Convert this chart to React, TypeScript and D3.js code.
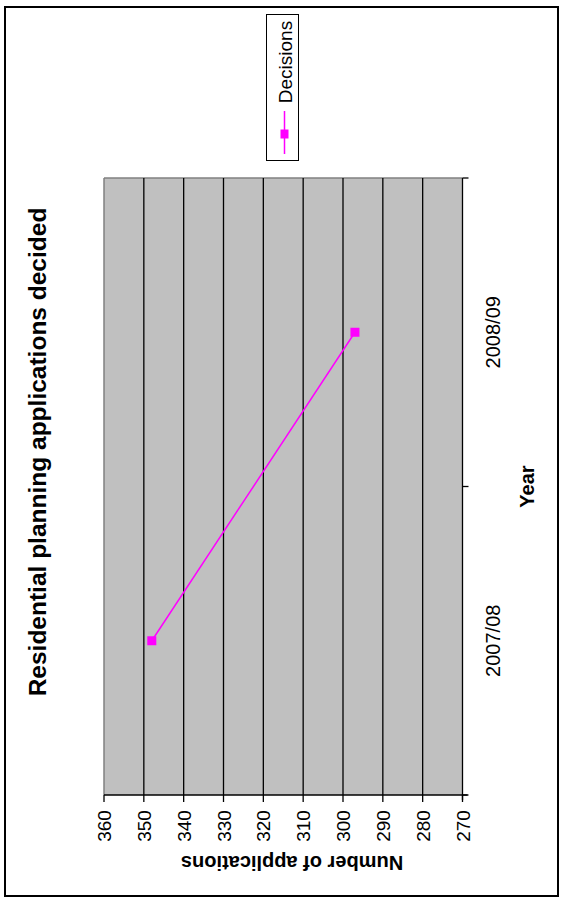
import React from "react";
import * as d3 from "d3";

// Series data
const years = ["2007/08", "2008/09"];
const decisions = [348, 297];
const valueTicks = [360, 350, 340, 330, 320, 310, 300, 290, 280, 270];

const W = 563;
const H = 910;
const FONT = "'Liberation Sans', Arial, sans-serif";

export default function App() {
  // Plot area (chart is laid out turned a quarter turn)
  const left = 104, right = 462.5, top = 178, bottom = 795;

  const x = d3.scaleLinear().domain([360, 270]).range([left, right]);
  const y = d3.scaleBand().domain(years).range([bottom, top]);
  const yc = (d: string) => (y(d) as number) + y.bandwidth() / 2;

  const line = d3
    .line<number>()
    .x((d) => x(d))
    .y((_, i) => yc(years[i]));

  const catTicks = [bottom, ...years.map((d) => y(d) as number)];

  return (
    <svg
      width={W}
      height={H}
      style={{ position: "absolute", left: 0, top: 0, background: "#fff" }}
      fontFamily={FONT}
    >
      {/* outer frame */}
      <rect x={5} y={7} width={553} height={889} fill="#fff" stroke="#000" strokeWidth={2} />

      {/* plot background */}
      <rect x={left} y={top} width={right - left} height={bottom - top} fill="#c0c0c0" />
      <line x1={left} x2={right} y1={top} y2={top} stroke="#808080" strokeWidth={1.5} />
      <line x1={left} x2={left} y1={top} y2={bottom} stroke="#808080" strokeWidth={1.5} />

      {/* gridlines */}
      {valueTicks
        .filter((v) => v !== 360 && v !== 270)
        .map((v) => (
          <line key={v} x1={x(v)} x2={x(v)} y1={top} y2={bottom} stroke="#000" strokeWidth={1.3} />
        ))}

      {/* value axis */}
      <line x1={left} x2={right + 5} y1={bottom} y2={bottom} stroke="#000" strokeWidth={1.3} />
      {valueTicks.map((v) => (
        <g key={v}>
          <line x1={x(v)} x2={x(v)} y1={bottom} y2={bottom + 7} stroke="#000" strokeWidth={1.3} />
          <text
            transform={`translate(${x(v) + 7},${bottom + 31}) rotate(-90)`}
            textAnchor="middle"
            fontSize={19}
            fill="#000"
          >
            {v}
          </text>
        </g>
      ))}
      <text
        transform={`translate(292,856) rotate(180)`}
        textAnchor="middle"
        fontSize={20}
        fontWeight="bold"
        fill="#000"
      >
        Number of applications
      </text>

      {/* category axis */}
      <line x1={right} x2={right} y1={top} y2={bottom + 5} stroke="#000" strokeWidth={1.3} />
      {catTicks.map((t, i) => (
        <line key={i} x1={right} x2={right + 6} y1={t} y2={t} stroke="#000" strokeWidth={1.3} />
      ))}
      {years.map((d) => (
        <text
          key={d}
          transform={`translate(${500},${yc(d)}) rotate(-90)`}
          textAnchor="middle"
          fontSize={20}
          fill="#000"
        >
          {d}
        </text>
      ))}
      <text
        transform={`translate(534,${(top + bottom) / 2}) rotate(-90)`}
        textAnchor="middle"
        fontSize={20}
        fontWeight="bold"
        fill="#000"
      >
        Year
      </text>

      {/* series */}
      <path d={line(decisions) as string} fill="none" stroke="#ff00ff" strokeWidth={1.5} />
      {decisions.map((v, i) => (
        <rect key={i} x={x(v) - 4.5} y={yc(years[i]) - 4.5} width={9} height={9} fill="#ff00ff" />
      ))}

      {/* title */}
      <text
        transform={`translate(46,452) rotate(-90)`}
        textAnchor="middle"
        fontSize={24.5}
        fontWeight="bold"
        fill="#000"
      >
        Residential planning applications decided
      </text>

      {/* legend */}
      <rect x={266.5} y={14.5} width={32} height={146} fill="#fff" stroke="#000" strokeWidth={1} />
      <line x1={284.5} x2={284.5} y1={111} y2={154} stroke="#ff00ff" strokeWidth={1.5} />
      <rect x={280.5} y={129.5} width={8} height={9} fill="#ff00ff" />
      <text
        transform={`translate(291.5,62) rotate(-90)`}
        textAnchor="middle"
        fontSize={19}
        fill="#000"
      >
        Decisions
      </text>
    </svg>
  );
}
